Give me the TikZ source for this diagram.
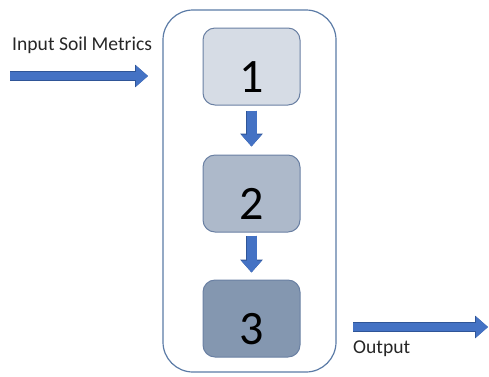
\documentclass[tikz,border=0pt]{standalone}
\usepackage{fontspec}
\setmainfont{Carlito}
\usetikzlibrary{arrows.meta}
\definecolor{arrowfill}{HTML}{4472C4}
\definecolor{arrowedge}{HTML}{2F5597}
\definecolor{outeredge}{HTML}{5B7BA6}
\definecolor{boxedge}{HTML}{6A80A3}
\definecolor{fillA}{HTML}{D6DCE5}
\definecolor{fillB}{HTML}{ADB9CA}
\definecolor{fillC}{HTML}{8497B0}
\tikzset{
  stepbox/.style={draw=boxedge, line width=1pt, rounded corners=12pt,
    minimum width=97pt, minimum height=77pt, inner sep=0pt,
    font=\fontsize{48}{48}\selectfont, text height=51pt, text depth=0pt},
  container/.style={draw=outeredge, line width=1.2pt, rounded corners=30pt,
    minimum width=173pt, minimum height=362pt, inner sep=0pt},
  lbl/.style={font=\fontsize{19.6}{19.6}\selectfont, text=black!85, inner sep=0pt},
  hfat/.style={line width=8pt, draw=arrowfill,
    -{Triangle[width=20pt,length=12pt]},
    preaction={draw=arrowedge, line width=9.4pt, -{Triangle[width=22pt,length=13pt]}}},
  vfat/.style={line width=10pt, draw=arrowfill,
    -{Triangle[width=20pt,length=12pt]},
    preaction={draw=arrowedge, line width=11.4pt, -{Triangle[width=22pt,length=13pt]}}}
}
\begin{document}
\begin{tikzpicture}[x=1pt,y=-1pt]
\useasboundingbox (0,0) rectangle (489,376);
\node[container] (outer) at (249.5,191) {};
\node[stepbox, fill=fillA] (b1) at (251.5,66.5) {1};
\node[stepbox, fill=fillB] (b2) at (251.5,193.5) {2};
\node[stepbox, fill=fillC] (b3) at (251.5,318.5) {3};
\node[lbl, anchor=base west] (inlbl) at (12,50) {Input Soil Metrics};
\node[lbl, anchor=base west] (outlbl) at (353,353) {Output};
\coordinate (in1) at (10,76);
\coordinate (in2) at (148,76);
\coordinate (out1) at (353,327);
\coordinate (out2) at (488,327);
\draw[hfat] (in1) -- (in2);
\draw[hfat] (out1) -- (out2);
\draw[vfat] ([yshift=-5pt]b1.south) -- ([yshift=8pt]b2.north);
\draw[vfat] ([yshift=-3pt]b2.south) -- ([yshift=7pt]b3.north);
\end{tikzpicture}
\end{document}
